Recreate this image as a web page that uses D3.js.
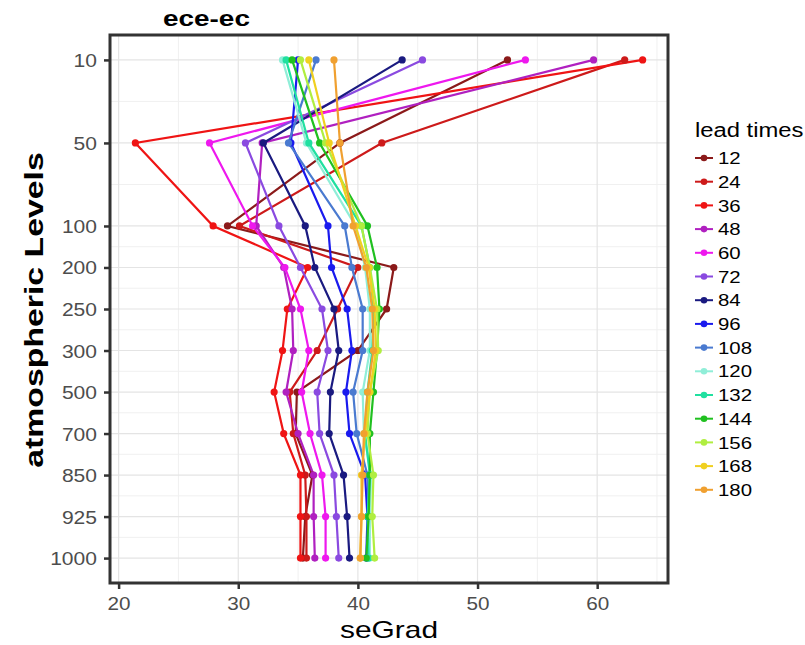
<!DOCTYPE html>
<html><head><meta charset="utf-8">
<script src="https://cdn.jsdelivr.net/npm/d3@7"></script>
<style>body{margin:0;background:#fff}svg{display:block}</style>
</head><body><svg id="c" width="805" height="645"></svg>
<script>
// ---- data ----
const levels = ["10","50","100","200","250","300","500","700","850","925","1000"];
const yGapSlots = ["gapA","gapB"]; // empty slots between 10-50 and 50-100
const xTicks = [20,30,40,50,60];
const leadTimes = ["12","24","36","48","60","72","84","96","108","120","132","144","156","168","180"];
const leadColors = ["#8b1a1a","#cd1a1a","#ef1414","#b020c0","#ee18ee","#8a4ae0","#1a1a80","#1a1aee","#4a7ad0","#90eed8","#20e0a0","#20c020","#b0ee40","#f0d020","#f0a030"];
const lt12  = [52.5,38.5,29.1,43.0,42.4,40.0,34.9,34.8,36.2,35.6,35.4];
const lt24  = [62.3,42.0,30.1,40.0,38.3,36.6,34.3,34.6,35.6,35.7,35.7];
const lt36  = [63.8,21.4,27.9,35.8,34.1,33.7,33.0,33.8,35.2,35.2,35.2];
const lt48  = [59.7,32.0,31.5,33.8,34.5,34.6,34.0,35.0,36.3,36.3,36.4];
const lt60  = [54.0,27.6,31.2,33.9,35.2,35.9,35.3,36.0,37.0,37.3,37.3];
const lt72  = [45.4,30.6,33.4,35.2,37.0,37.5,36.6,36.8,38.0,38.2,38.4];
const lt84  = [43.7,32.1,35.6,36.4,38.0,38.4,37.7,37.6,38.8,39.1,39.3];
const lt96  = [35.0,34.4,37.5,37.8,39.1,39.5,39.0,39.3,40.6,40.8,40.7];
const lt108 = [36.5,34.2,38.9,39.5,40.4,40.4,39.6,39.9,40.8,40.9,40.8];
const lt120 = [33.7,35.7,39.8,40.6,41.0,41.0,40.4,40.5,41.1,41.0,41.0];
const lt132 = [34.0,35.9,40.3,41.0,41.3,41.2,40.8,40.6,41.0,40.8,40.9];
const lt144 = [34.5,36.8,40.8,41.6,41.8,41.6,41.3,41.0,41.0,40.9,40.7];
const lt156 = [35.2,37.3,40.3,41.0,41.6,41.7,41.0,40.8,41.3,41.2,41.4];
const lt168 = [35.9,37.6,39.8,40.9,41.4,41.5,41.0,40.6,40.3,40.3,40.2];
const lt180 = [38.0,38.5,39.6,40.7,41.2,41.3,40.8,40.5,40.4,40.3,40.2];
const seriesValues = [lt12,lt24,lt36,lt48,lt60,lt72,lt84,lt96,lt108,lt120,lt132,lt144,lt156,lt168,lt180];

const series = leadTimes.map((k,i)=>({key:k,color:leadColors[i],
  pts:levels.map((l,j)=>({level:l,v:seriesValues[i][j]}))}));

// ---- layout ----
const svg = d3.select("#c");
const P = {l:110,r:668,t:35,b:583};
const FONT = "'Liberation Sans', Arial, Helvetica, sans-serif";
const TXT = "#4d4d4d";

const allV = seriesValues.flat();
const [vmin,vmax] = d3.extent(allV);
const pad = (vmax-vmin)*0.05;
const x = d3.scaleLinear().domain([vmin-pad, vmax+pad]).range([P.l,P.r]);
const yDomain = [levels[0], yGapSlots[0], levels[1], yGapSlots[1], ...levels.slice(2)];
const y = d3.scalePoint().domain(yDomain).range([P.t,P.b]).padding(0.6);

// grid
const g = svg.append("g");
const minorX = d3.range(xTicks[0]-5, x.domain()[1], 5).filter(v=>v>x.domain()[0] && !xTicks.includes(v));
g.selectAll(".mx").data(minorX).join("line")
  .attr("x1",d=>x(d)).attr("x2",d=>x(d)).attr("y1",P.t).attr("y2",P.b)
  .attr("stroke","#f0f0f0").attr("stroke-width",1);
const minorY = d3.pairs(levels).map(([a,b])=>(y(a)+y(b))/2);
g.selectAll(".my").data(minorY).join("line")
  .attr("x1",P.l).attr("x2",P.r).attr("y1",d=>d).attr("y2",d=>d)
  .attr("stroke","#f0f0f0").attr("stroke-width",1);
g.selectAll(".Mx").data(xTicks).join("line")
  .attr("x1",d=>x(d)).attr("x2",d=>x(d)).attr("y1",P.t).attr("y2",P.b)
  .attr("stroke","#e4e4e4").attr("stroke-width",1.2);
g.selectAll(".My").data(levels).join("line")
  .attr("x1",P.l).attr("x2",P.r).attr("y1",d=>y(d)).attr("y2",d=>y(d))
  .attr("stroke","#e4e4e4").attr("stroke-width",1.2);

// lines and points
const line = d3.line().x(d=>x(d.v)).y(d=>y(d.level));
svg.append("g").selectAll("path").data(series).join("path")
  .attr("d",d=>line(d.pts)).attr("fill","none").attr("stroke",d=>d.color)
  .attr("stroke-width",2.2);
const pg = svg.append("g");
series.forEach(s=>{
  pg.append("g").selectAll("circle").data(s.pts).join("circle")
    .attr("cx",d=>x(d.v)).attr("cy",d=>y(d.level)).attr("r",3.6).attr("fill",s.color);
});

// border
svg.append("rect").attr("x",P.l).attr("y",P.t).attr("width",P.r-P.l).attr("height",P.b-P.t)
  .attr("fill","none").attr("stroke","#333").attr("stroke-width",3);

// axes
const xa = svg.append("g").attr("transform",`translate(0,${P.b})`)
  .call(d3.axisBottom(x).tickValues(xTicks).tickSize(6).tickPadding(4).tickFormat(d3.format("d")));
const ya = svg.append("g").attr("transform",`translate(${P.l},0)`)
  .call(d3.axisLeft(y).tickValues(levels).tickSize(6).tickPadding(4));
[xa,ya].forEach(a=>{
  a.select(".domain").remove();
  a.selectAll(".tick line").attr("stroke","#333").attr("stroke-width",2.5);
  a.selectAll(".tick text").attr("fill",TXT).attr("font-family",FONT).attr("font-size",18);
});
xa.selectAll(".tick text").attr("dy","0.95em").attr("transform","scale(1.15,1)");
ya.selectAll(".tick text").attr("transform","translate(-13,0) scale(1.17,1)").attr("x",0).attr("dy","0.36em");

// titles
function txt(xp,yp,s,size,weight,anchor,sx,rot,fill){
  svg.append("text").attr("transform",`translate(${xp},${yp})${rot?` rotate(${rot})`:""} scale(${sx},1)`)
    .attr("font-family",FONT).attr("font-size",size).attr("font-weight",weight)
    .attr("text-anchor",anchor).attr("fill",fill||"#000").text(s);
}
txt(163,26,"ece-ec",22,"bold","start",1.27,0);
txt(389,638,"seGrad",23,"normal","middle",1.3,0);
txt(43,310,"atmospheric Levels",26,"bold","middle",1.3,-90);

// legend
const L = {x:695,y0:158,dy:23.7};
txt(L.x,137,"lead times",20,"normal","start",1.19,0);
const lg = svg.append("g").selectAll("g").data(series).join("g")
  .attr("transform",(d,i)=>`translate(${L.x},${L.y0+i*L.dy})`);
lg.append("line").attr("x1",0).attr("x2",18).attr("stroke",d=>d.color).attr("stroke-width",2);
lg.append("circle").attr("cx",9).attr("r",3.3).attr("fill",d=>d.color);
lg.append("text").attr("transform","translate(23,0) scale(1.2,1)").attr("dy","0.36em")
  .attr("font-family",FONT).attr("font-size",17).attr("fill","#000").text(d=>d.key);
</script></body></html>
